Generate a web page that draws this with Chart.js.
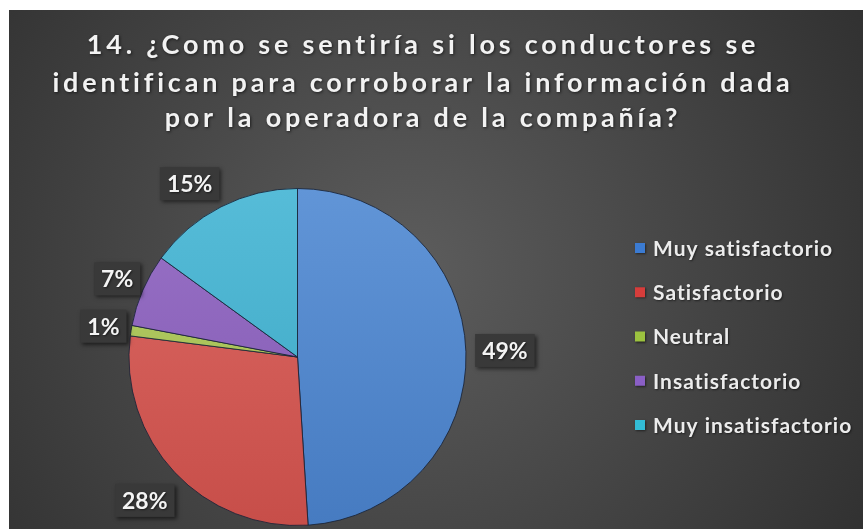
<!DOCTYPE html>
<html>
<head>
<meta charset="utf-8">
<script src="https://cdn.jsdelivr.net/npm/chart.js@4.4.0/dist/chart.umd.min.js"></script>
<style>
  html, body { margin: 0; padding: 0; background: #ffffff; }
  #wrap { position: absolute; left: 9px; top: 10px; width: 854px; height: 519px; }
</style>
</head>
<body>
<div id="wrap"><canvas id="pieChart"></canvas></div>
<script>
// Data
var titleLines = [
    '14. ¿Como se sentiría si los conductores se',
    'identifican para corroborar la información dada',
    'por la operadora de la compañía?'
];
var categories = ['Muy satisfactorio', 'Satisfactorio', 'Neutral', 'Insatisfactorio', 'Muy insatisfactorio'];
var percentages = [49, 28, 1, 7, 15];

// Colours
var sliceColors = ['#4c86d2', '#d8554f', '#acc853', '#8b5fbf', '#3fb3d3'];
var legendColors = ['#3b7bd2', '#d63d3b', '#9cc23f', '#8a5fc6', '#33bcd6'];

// label boxes: extra distance past the rim, plus a small pixel nudge
var labelGap = [39, 41, 28, 28, 36];
var labelNudge = [[0, 0], [0, 0], [0, 0], [0, 0], [-15, 9]];

function shade(hex, amt) {
    var n = parseInt(hex.slice(1), 16);
    var r = (n >> 16) & 255, g = (n >> 8) & 255, b = n & 255;
    function f(v) {
        v = amt > 0 ? v + (255 - v) * amt : v * (1 + amt);
        return Math.round(Math.max(0, Math.min(255, v)));
    }
    return 'rgb(' + f(r) + ',' + f(g) + ',' + f(b) + ')';
}

function sliceFill(context) {
    var base = sliceColors[context.dataIndex];
    var area = context.chart.chartArea;
    if (!area) return base;
    var g = context.chart.ctx.createLinearGradient(0, area.top, 0, area.bottom);
    g.addColorStop(0, shade(base, 0.12));
    g.addColorStop(1, shade(base, -0.08));
    return g;
}

var backgroundPlugin = {
    id: 'darkBackground',
    beforeDraw: function (chart) {
        var ctx = chart.ctx;
        var w = chart.width, h = chart.height;
        ctx.save();
        var g = ctx.createRadialGradient(400, 260, 20, 400, 260, 560);
        g.addColorStop(0, '#5b5b5b');
        g.addColorStop(1, '#2e2e2e');
        ctx.fillStyle = g;
        ctx.fillRect(0, 0, w, h);
        ctx.restore();
    }
};

var titlePlugin = {
    id: 'spacedTitle',
    beforeDatasetsDraw: function (chart) {
        var ctx = chart.ctx;
        var baselines = [44, 82, 117];
        ctx.save();
        ctx.font = 'bold 27px Lato';
        ctx.letterSpacing = '3.8px';
        ctx.fillStyle = '#f2f2f2';
        ctx.textAlign = 'center';
        ctx.textBaseline = 'alphabetic';
        ctx.shadowColor = 'rgba(0,0,0,0.6)';
        ctx.shadowBlur = 3;
        ctx.shadowOffsetX = 1;
        ctx.shadowOffsetY = 1;
        titleLines.forEach(function (line, i) {
            ctx.fillText(line, 414, baselines[i]);
        });
        ctx.restore();
    }
};

var valueLabelPlugin = {
    id: 'valueBoxes',
    afterDatasetsDraw: function (chart) {
        var ctx = chart.ctx;
        var meta = chart.getDatasetMeta(0);
        ctx.save();
        ctx.font = 'bold 23px Lato';
        ctx.textAlign = 'center';
        ctx.textBaseline = 'middle';
        meta.data.forEach(function (arc, i) {
            var p = arc.getProps(['x', 'y', 'startAngle', 'endAngle', 'outerRadius'], true);
            var mid = (p.startAngle + p.endAngle) / 2;
            var d = p.outerRadius + labelGap[i];
            var cx = p.x + Math.cos(mid) * d + labelNudge[i][0];
            var cy = p.y + Math.sin(mid) * d + labelNudge[i][1];
            var text = percentages[i] + '%';
            var bw = ctx.measureText(text).width + 14;
            var bh = 33;
            ctx.shadowColor = 'rgba(0,0,0,0.55)';
            ctx.shadowBlur = 4;
            ctx.shadowOffsetX = 2;
            ctx.shadowOffsetY = 2;
            ctx.fillStyle = '#393939';
            ctx.fillRect(cx - bw / 2, cy - bh / 2, bw, bh);
            ctx.shadowColor = 'rgba(0,0,0,0.5)';
            ctx.shadowBlur = 2;
            ctx.shadowOffsetX = 1;
            ctx.shadowOffsetY = 1;
            ctx.fillStyle = '#f4f4f4';
            ctx.fillText(text, cx, cy + 1);
        });
        ctx.restore();
    }
};

var legendPlugin = {
    id: 'sideLegend',
    afterDraw: function (chart) {
        var ctx = chart.ctx;
        ctx.save();
        ctx.font = 'bold 21px Lato';
        ctx.letterSpacing = '1px';
        ctx.textBaseline = 'middle';
        categories.forEach(function (name, i) {
            var y = 238 + i * 44.25;
            ctx.shadowColor = 'rgba(0,0,0,0.5)';
            ctx.shadowBlur = 2;
            ctx.shadowOffsetX = 1;
            ctx.shadowOffsetY = 1;
            ctx.fillStyle = legendColors[i];
            ctx.fillRect(626, y - 5, 10, 10);
            ctx.fillStyle = '#ececec';
            ctx.fillText(name, 644, y + 1);
        });
        ctx.restore();
    }
};

var canvasElement = document.getElementById('pieChart');
var config = {
    type: 'pie',
    data: {
        labels: categories,
        datasets: [{
            data: percentages,
            backgroundColor: sliceFill,
            borderColor: 'rgba(25,35,55,0.85)',
            borderWidth: 1
        }]
    },
    options: {
        responsive: true,
        maintainAspectRatio: false,
        animation: false,
        layout: { padding: { left: 119, right: 396, top: 178, bottom: 3 } },
        plugins: {
            legend: { display: false },
            tooltip: { enabled: false },
            title: { display: false }
        }
    },
    plugins: [backgroundPlugin, titlePlugin, valueLabelPlugin, legendPlugin]
};

var pieChart = new Chart(canvasElement, config);
</script>
</body>
</html>
